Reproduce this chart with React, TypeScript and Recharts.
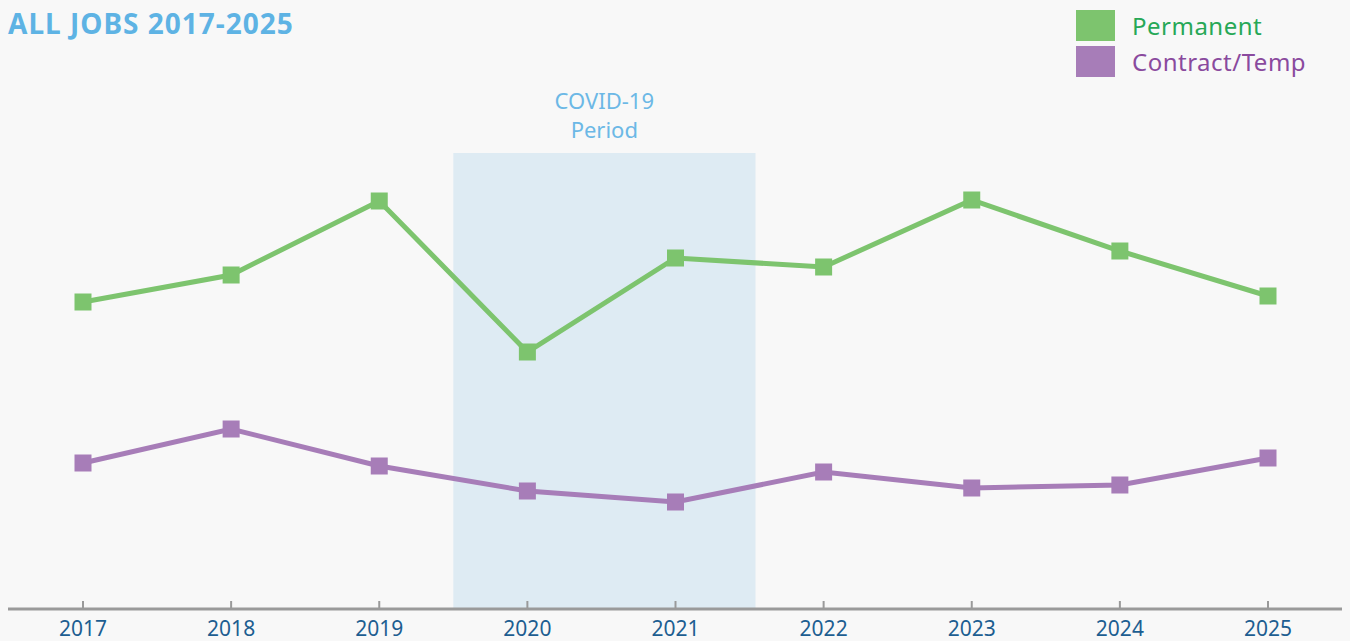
import { LineChart, Line, XAxis, YAxis, ReferenceArea } from 'recharts';

const years = [2017, 2018, 2019, 2020, 2021, 2022, 2023, 2024, 2025];
const permanent = [307, 334, 408, 257, 351, 342, 409, 358, 313];
const contractTemp = [146, 180, 143, 118, 107, 137, 121, 124, 151];

const covidStart = 2019.5;
const covidEnd = 2021.54;
const covidTop = 456;

const GREEN = '#7dc46e';
const PURPLE = '#a77db8';
const FONT = '"Noto Sans", sans-serif';

const data = years.map((year, i) => ({
  year,
  permanent: permanent[i],
  contract: contractTemp[i],
}));

function SquareDot(props: any) {
  const { cx, cy, fill } = props;
  if (cx == null || cy == null) return null;
  return <rect x={cx - 8.5} y={cy - 8.5} width={17} height={17} fill={fill} />;
}

function YearTick(props: any) {
  const { x, y, payload } = props;
  return (
    <g>
      <line x1={x} x2={x} y1={y - 8} y2={y} stroke="#9a9a9a" strokeWidth={2} />
      <text x={x} y={y + 27} textAnchor="middle" fill="#1d5e91" fontSize={21} fontFamily={FONT}>
        {payload.value}
      </text>
    </g>
  );
}

function CovidLabel(props: any) {
  const { viewBox } = props;
  const cx = viewBox.x + 151;
  return (
    <g fontFamily={FONT} fontSize={22} fill="#6cb8e6" textAnchor="middle">
      <text x={cx} y={viewBox.y - 44}>COVID-19</text>
      <text x={cx} y={viewBox.y - 15}>Period</text>
    </g>
  );
}

export default function App() {
  return (
    <div style={{ position: 'relative', width: 1350, height: 641, background: '#f8f8f8' }}>
      <style>{`body{margin:0;background:#f8f8f8}`}</style>
      <div
        style={{
          position: 'absolute',
          left: 8,
          top: 4,
          fontFamily: FONT,
          fontWeight: 700,
          fontSize: 28,
          letterSpacing: 1,
          color: '#5eb3e4',
        }}
      >
        ALL JOBS 2017-2025
      </div>
      <div style={{ position: 'absolute', left: 1076, top: 10, fontFamily: FONT, fontSize: 24, letterSpacing: 0.5 }}>
        {[
          { label: 'Permanent', color: GREEN, text: '#27a857' },
          { label: 'Contract/Temp', color: PURPLE, text: '#8a4a9e' },
        ].map((item) => (
          <div key={item.label} style={{ display: 'flex', alignItems: 'center', height: 31, marginBottom: 5 }}>
            <div style={{ width: 39, height: 31, background: item.color, marginRight: 17 }} />
            <span style={{ color: item.text }}>{item.label}</span>
          </div>
        ))}
      </div>
      <LineChart width={1350} height={641} data={data} margin={{ top: 109, right: 8, bottom: 0, left: 8 }}>
        <XAxis
          dataKey="year"
          type="number"
          domain={[2017, 2025]}
          ticks={years}
          padding={{ left: 75, right: 74 }}
          axisLine={{ stroke: '#9a9a9a', strokeWidth: 3 }}
          tickLine={false}
          tickSize={0}
          tickMargin={0}
          tick={<YearTick />}
          interval={0}
          height={32}
        />
        <YAxis hide domain={[0, 500]} />
        <ReferenceArea
          x1={covidStart}
          x2={covidEnd}
          y1={0}
          y2={covidTop}
          fill="#deebf3"
          fillOpacity={1}
          stroke="none"
          label={<CovidLabel />}
        />
        <Line
          dataKey="permanent"
          stroke={GREEN}
          strokeWidth={5}
          fill={GREEN}
          dot={<SquareDot />}
          activeDot={false}
          isAnimationActive={false}
        />
        <Line
          dataKey="contract"
          stroke={PURPLE}
          strokeWidth={5}
          fill={PURPLE}
          dot={<SquareDot />}
          activeDot={false}
          isAnimationActive={false}
        />
      </LineChart>
    </div>
  );
}
